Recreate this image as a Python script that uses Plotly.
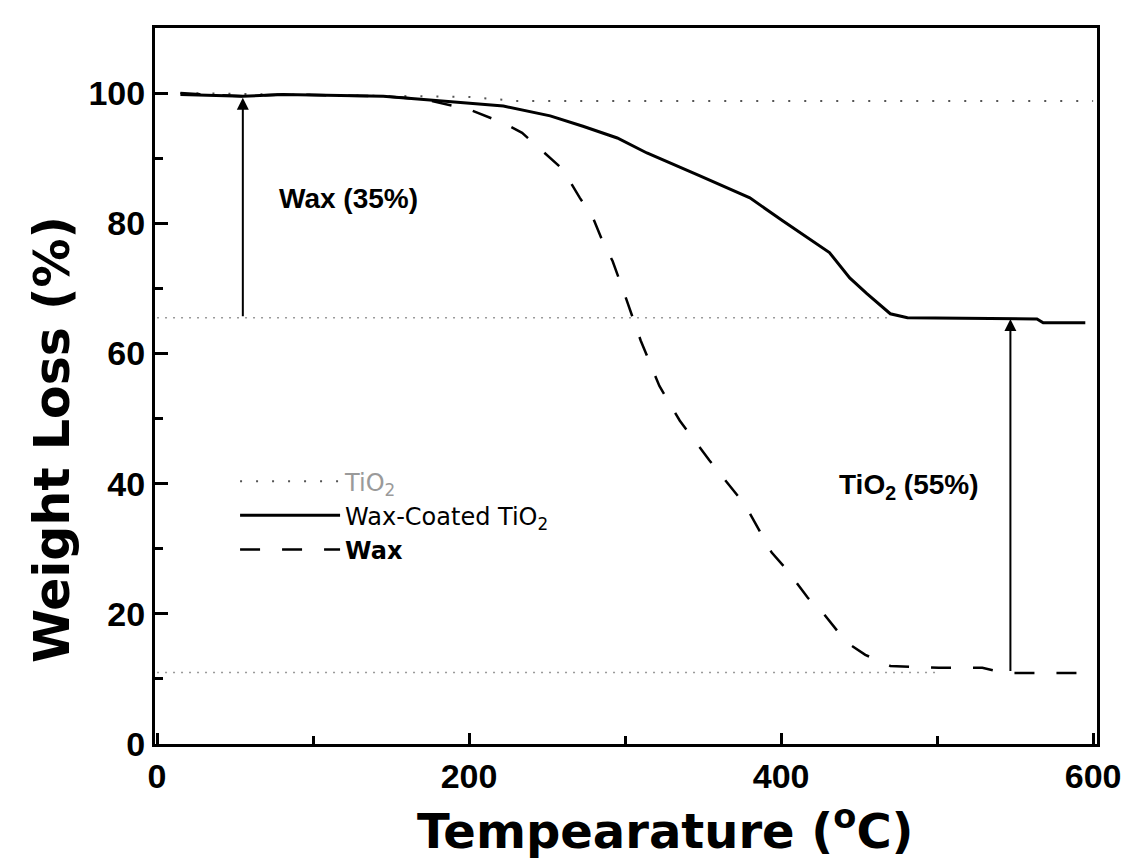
import plotly.graph_objects as go

# ---- data ----
coated_temp = [15, 55, 81, 145, 167, 200, 222, 252, 273, 295, 314, 348, 380, 401, 431, 444, 455, 470, 481, 564, 568, 595]
coated_wt = [99.8, 99.5, 99.8, 99.5, 99.1, 98.5, 98.0, 96.5, 94.9, 93.1, 90.8, 87.3, 83.9, 80.4, 75.5, 71.6, 69.2, 66.1, 65.5, 65.3, 64.7, 64.7]

wax_temp = [15, 55, 80, 145, 170, 200, 222, 234, 247, 260, 271, 279, 286, 292, 300, 310, 322, 335, 354, 377, 394, 404,
            417, 427, 442, 454, 470, 501, 513, 529, 544, 558, 572, 600]
wax_wt = [100, 99.5, 99.8, 99.5, 99.1, 97.5, 95.4, 93.9, 91.1, 88.3, 83.9, 81.1, 77.0, 74.2, 68.9, 62.0, 55.0, 49.7, 43.6,
          36.7, 29.4, 26.7, 22.5, 20.1, 15.6, 13.7, 12.0, 11.7, 11.7, 11.7, 10.9, 10.9, 11.0, 10.9]

tio2_temp = [15, 200, 230, 600]
tio2_wt = [100, 99.4, 98.8, 98.8]

guide_upper_temp = [0, 470]
guide_upper_wt = [65.5, 65.5]
guide_lower_temp = [0, 500]
guide_lower_wt = [11.0, 11.0]

arrow_temps = [55, 547]
arrow_bottoms = [65.5, 11.0]
arrow_tops = [99.3, 65.3]

labels = ["<b>Wax (35%)</b>", "<b>TiO<sub>2</sub> (55%)</b>"]
label_temps = [123, 482]
label_wts = [83.8, 39.6]

x_ticks = [0, 200, 400, 600]
y_ticks = [0, 20, 40, 60, 80, 100]

FONT = "Liberation Sans, Arial, sans-serif"
TITLE_FONT = "DejaVu Sans, Liberation Sans, Arial, sans-serif"

fig = go.Figure()

fig.add_trace(go.Scatter(x=guide_upper_temp, y=guide_upper_wt, mode="lines", showlegend=False,
                         line=dict(color="#9a9a9a", width=1.5, dash="2px,6px"), hoverinfo="skip"))
fig.add_trace(go.Scatter(x=guide_lower_temp, y=guide_lower_wt, mode="lines", showlegend=False,
                         line=dict(color="#9a9a9a", width=1.5, dash="2px,6px"), hoverinfo="skip"))

fig.add_trace(go.Scatter(x=tio2_temp, y=tio2_wt, mode="lines",
                         name="<span style='color:#9a9a9a'>TiO<sub>2</sub></span>",
                         line=dict(color="#555555", width=2, dash="2px,14px")))
fig.add_trace(go.Scatter(x=coated_temp, y=coated_wt, mode="lines",
                         name="Wax-Coated TiO<sub>2</sub>",
                         line=dict(color="black", width=3)))
fig.add_trace(go.Scatter(x=wax_temp, y=wax_wt, mode="lines",
                         name="<b>Wax</b>",
                         line=dict(color="black", width=2.5, dash="20px,22px")))

for t, b, tp in zip(arrow_temps, arrow_bottoms, arrow_tops):
    fig.add_annotation(x=t, y=tp, ax=t, ay=b, xref="x", yref="y", axref="x", ayref="y",
                       showarrow=True, arrowhead=2, arrowsize=1.2, arrowwidth=2, arrowcolor="black", text="")

for txt, t, w in zip(labels, label_temps, label_wts):
    fig.add_annotation(x=t, y=w, xref="x", yref="y", text=txt, showarrow=False,
                       font=dict(family=FONT, size=28, color="black"))

# axis titles placed as text in paper coordinates
fig.add_annotation(x=0.542, y=-0.118, xref="paper", yref="paper", xanchor="center", yanchor="middle",
                   text="<b>Tempearature (<sup>o</sup>C)</b>", showarrow=False,
                   font=dict(family=TITLE_FONT, size=48, color="black"))
fig.add_annotation(x=-0.109, y=0.425, xref="paper", yref="paper", xanchor="center", yanchor="middle",
                   text="<b>Weight Loss (%)</b>", showarrow=False, textangle=-90,
                   font=dict(family=TITLE_FONT, size=49, color="black"))

# page has an 8px body margin, so the figure is sized to sit inside the 1130x866 window
fig.update_layout(
    width=1114, height=850,
    margin=dict(l=147, r=25, t=20, b=114),
    paper_bgcolor="white", plot_bgcolor="white",
    font=dict(family=FONT, color="black"),
    legend=dict(x=0.085, y=0.398, xanchor="left", yanchor="top", bgcolor="rgba(0,0,0,0)",
                font=dict(family="DejaVu Sans, Liberation Sans, sans-serif", size=24, color="black"),
                tracegroupgap=0, itemwidth=100),
)

fig.update_xaxes(range=[-1.3, 602.5], tickvals=x_ticks, ticktext=[f"<b>{v}</b>" for v in x_ticks],
                 showgrid=False, zeroline=False, automargin=False,
                 showline=True, linecolor="black", linewidth=3, mirror=True,
                 ticks="inside", ticklen=11, tickwidth=2.5, tickcolor="black",
                 minor=dict(tickvals=[100, 300, 500], ticks="inside", ticklen=8, tickwidth=2.5, tickcolor="black"),
                 tickfont=dict(family=FONT, size=34, color="black", weight="bold"))
fig.update_yaxes(range=[0, 110], tickvals=y_ticks, ticktext=[f"<b>{v}</b>" for v in y_ticks],
                 showgrid=False, zeroline=False, automargin=False,
                 showline=True, linecolor="black", linewidth=3, mirror=True,
                 ticks="inside", ticklen=13, tickwidth=2.5, tickcolor="black",
                 minor=dict(tickvals=[10, 30, 50, 70, 90], ticks="inside", ticklen=8, tickwidth=2.5, tickcolor="black"),
                 tickfont=dict(family=FONT, size=34, color="black", weight="bold"))

fig.write_html("out.html")
